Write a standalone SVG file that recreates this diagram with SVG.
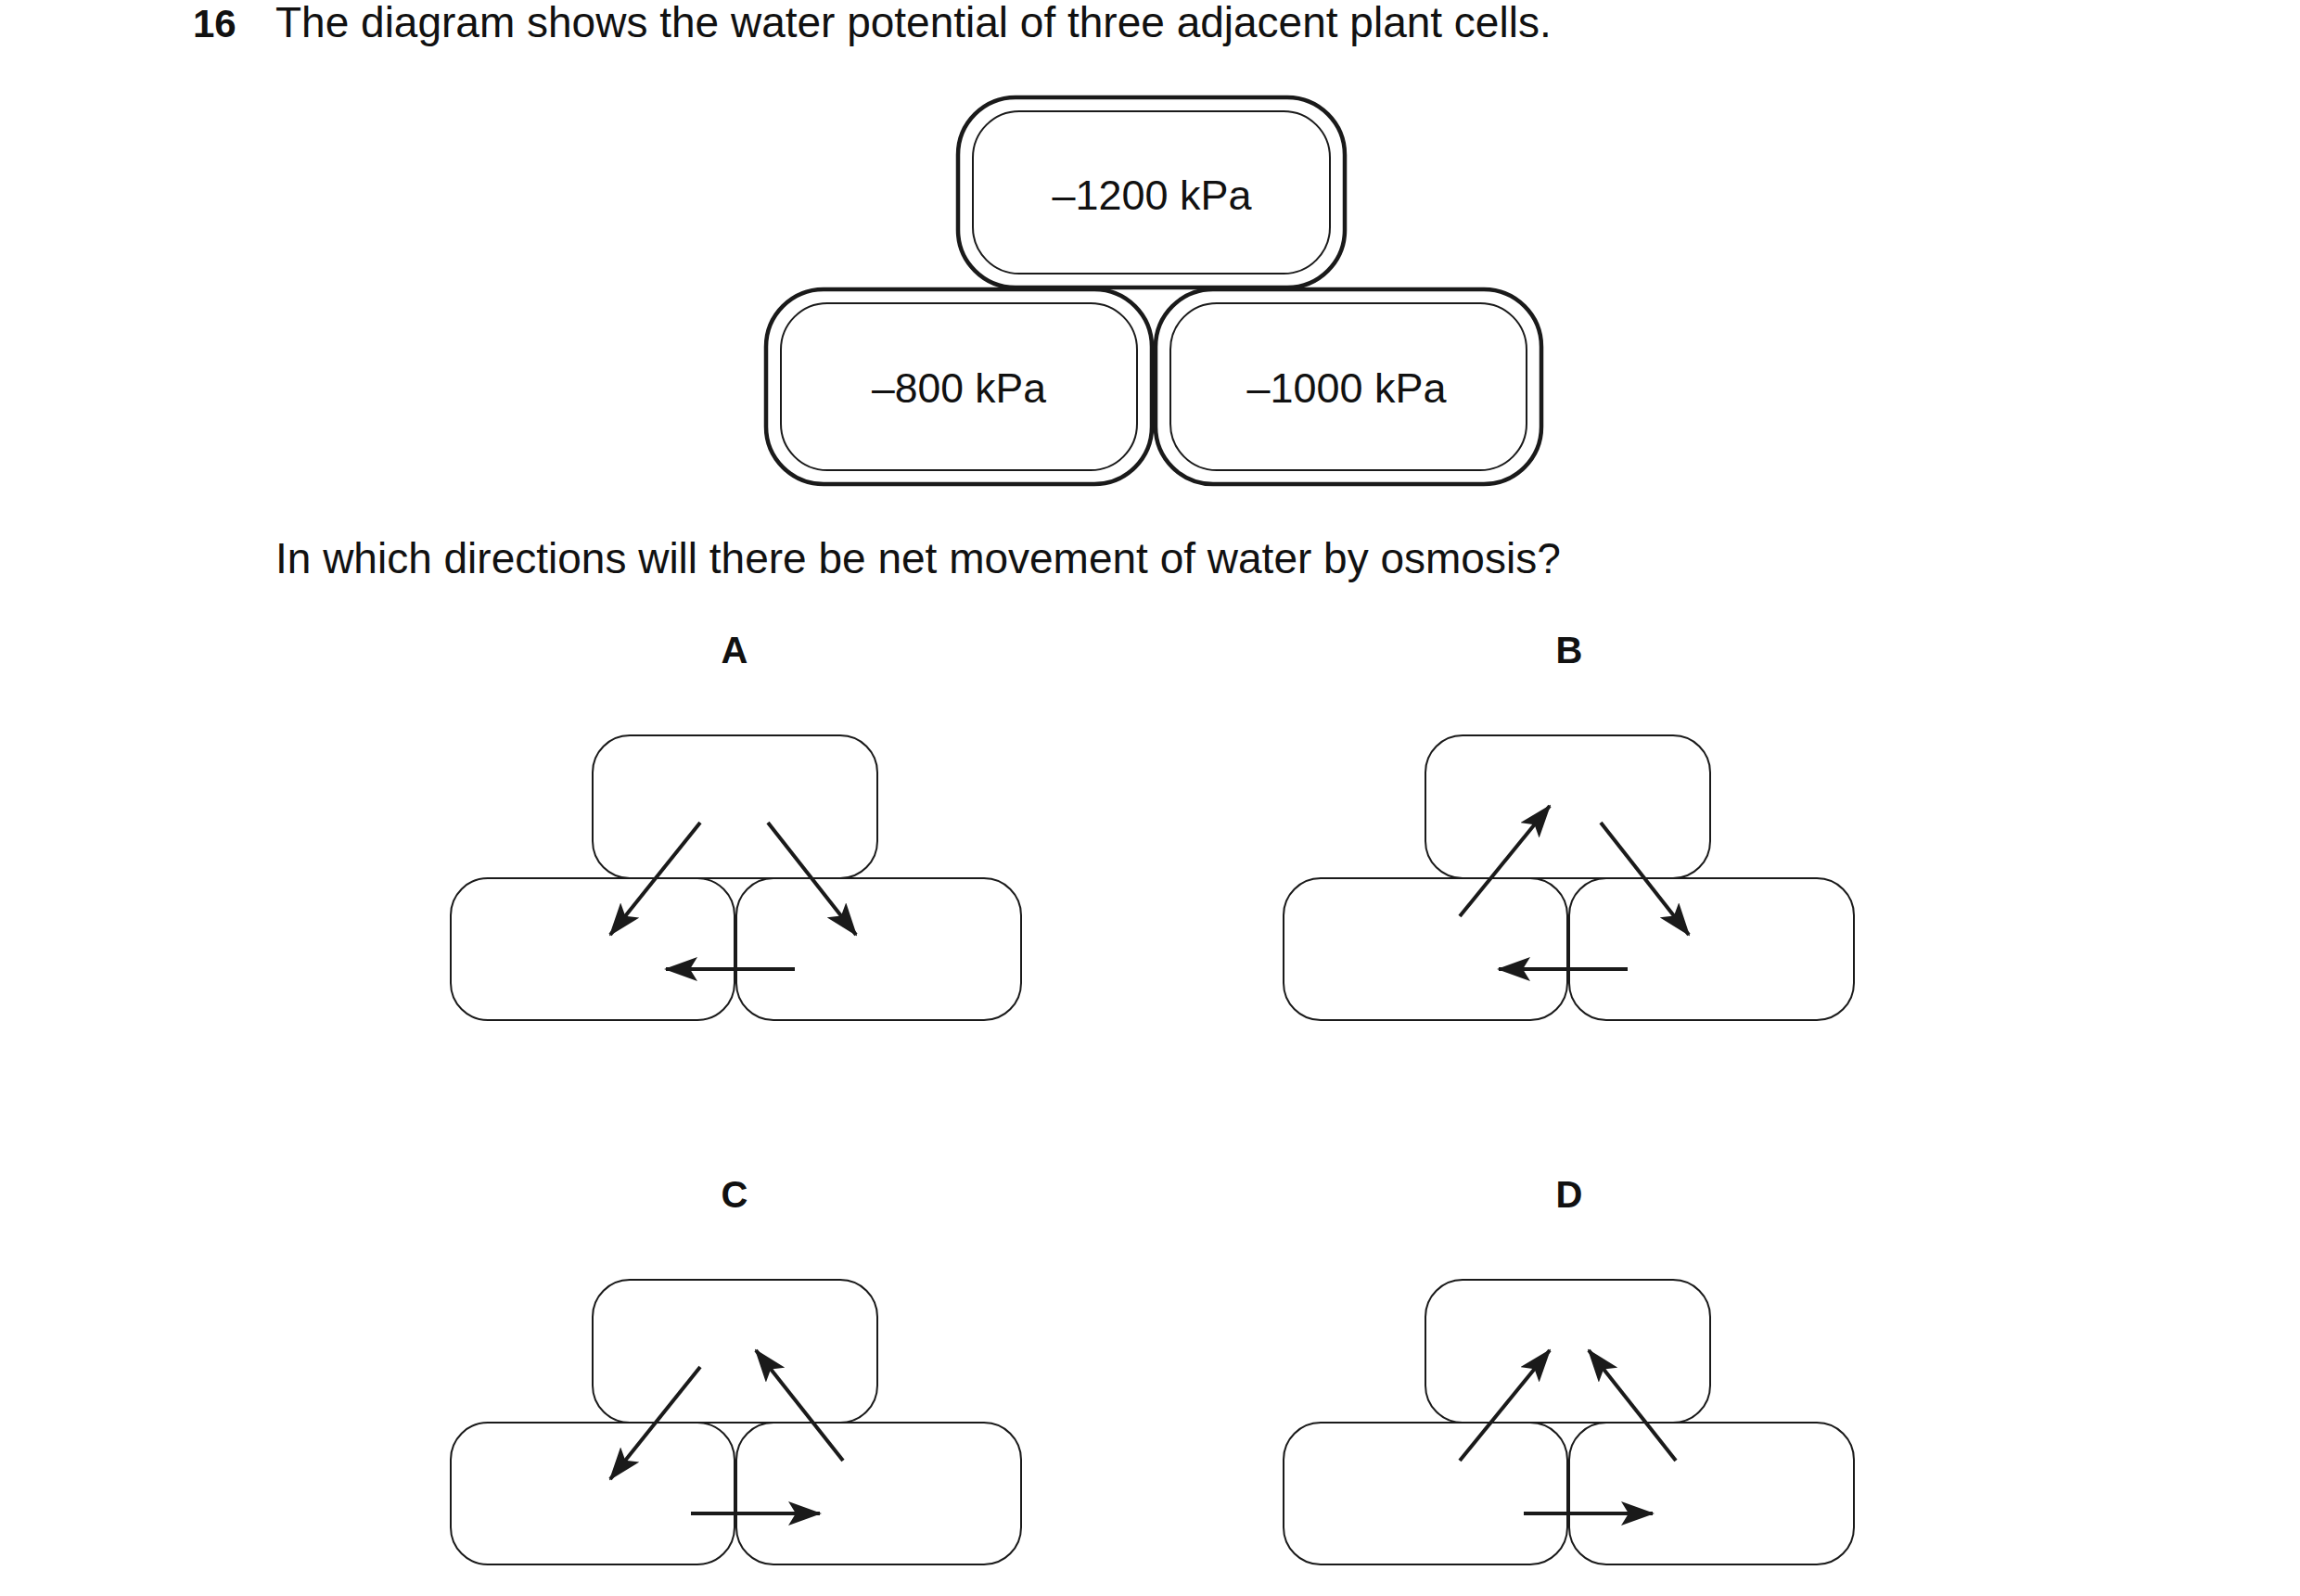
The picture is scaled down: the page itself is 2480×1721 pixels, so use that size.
<svg xmlns="http://www.w3.org/2000/svg" width="2480" height="1721" viewBox="0 0 2480 1721">
<style>
text{font-family:"Liberation Sans",Arial,sans-serif;fill:#111}
.outer{fill:none;stroke:#1a1a1a;stroke-width:4.5}
.inner{fill:none;stroke:#1a1a1a;stroke-width:2}
.cell{fill:#fff;stroke:#1a1a1a;stroke-width:2}
.arr{stroke:#1a1a1a;stroke-width:4;marker-end:url(#ah)}
.val{font-size:44px}
.lab{font-size:40px;font-weight:bold}
</style>
<defs>
<marker id="ah" markerUnits="userSpaceOnUse" markerWidth="36" markerHeight="26" refX="34" refY="13" orient="auto">
<path d="M0,0 L36,13 L0,26 L8,13 Z" fill="#1a1a1a"/>
</marker>
<g id="cells3">
<rect class="cell" x="486" y="947" width="306" height="153" rx="40"/>
<rect class="cell" x="794" y="947" width="307" height="153" rx="40"/>
<rect class="cell" x="639" y="793" width="307" height="154" rx="40"/>
</g>
</defs>
<text x="208" y="40" font-size="46"><tspan font-weight="bold" font-size="42">16</tspan><tspan x="297">The diagram shows the water potential of three adjacent plant cells.</tspan></text>
<g id="cell-top">
<rect class="outer" x="1033" y="105" width="417" height="205" rx="62"/>
<rect class="inner" x="1049" y="120" width="385" height="175" rx="50"/>
<text class="val" x="1242" y="226" text-anchor="middle" textLength="215" lengthAdjust="spacingAndGlyphs">–1200 kPa</text>
</g>
<g id="cell-left">
<rect class="outer" x="826" y="312" width="416" height="210" rx="62"/>
<rect class="inner" x="842" y="327" width="384" height="180" rx="50"/>
<text class="val" x="1034" y="434" text-anchor="middle" textLength="188" lengthAdjust="spacingAndGlyphs">–800 kPa</text>
</g>
<g id="cell-right">
<rect class="outer" x="1246" y="312" width="416" height="210" rx="62"/>
<rect class="inner" x="1262" y="327" width="384" height="180" rx="50"/>
<text class="val" x="1452" y="434" text-anchor="middle" textLength="215" lengthAdjust="spacingAndGlyphs">–1000 kPa</text>
</g>
<text x="297" y="618" font-size="46">In which directions will there be net movement of water by osmosis?</text>
<text class="lab" x="792" y="715" text-anchor="middle">A</text>
<text class="lab" x="1692" y="715" text-anchor="middle">B</text>
<text class="lab" x="792" y="1302" text-anchor="middle">C</text>
<text class="lab" x="1692" y="1302" text-anchor="middle">D</text>
<g id="option-A"><use href="#cells3"/></g>
<g id="option-B"><use href="#cells3" x="898"/></g>
<g id="option-C"><use href="#cells3" y="587"/></g>
<g id="option-D"><use href="#cells3" x="898" y="587"/></g>
<g id="connectors">
<line class="arr" x1="755" y1="887" x2="658" y2="1008"/>
<line class="arr" x1="828" y1="887" x2="923" y2="1008"/>
<line class="arr" x1="857" y1="1045" x2="718" y2="1045"/>
<line class="arr" x1="1574" y1="988" x2="1671" y2="869"/>
<line class="arr" x1="1726" y1="887" x2="1821" y2="1008"/>
<line class="arr" x1="1755" y1="1045" x2="1616" y2="1045"/>
<line class="arr" x1="755" y1="1474" x2="658" y2="1595"/>
<line class="arr" x1="909" y1="1575" x2="815" y2="1456"/>
<line class="arr" x1="745" y1="1632" x2="884" y2="1632"/>
<line class="arr" x1="1574" y1="1575" x2="1671" y2="1456"/>
<line class="arr" x1="1807" y1="1575" x2="1713" y2="1456"/>
<line class="arr" x1="1643" y1="1632" x2="1782" y2="1632"/>
</g>
</svg>
